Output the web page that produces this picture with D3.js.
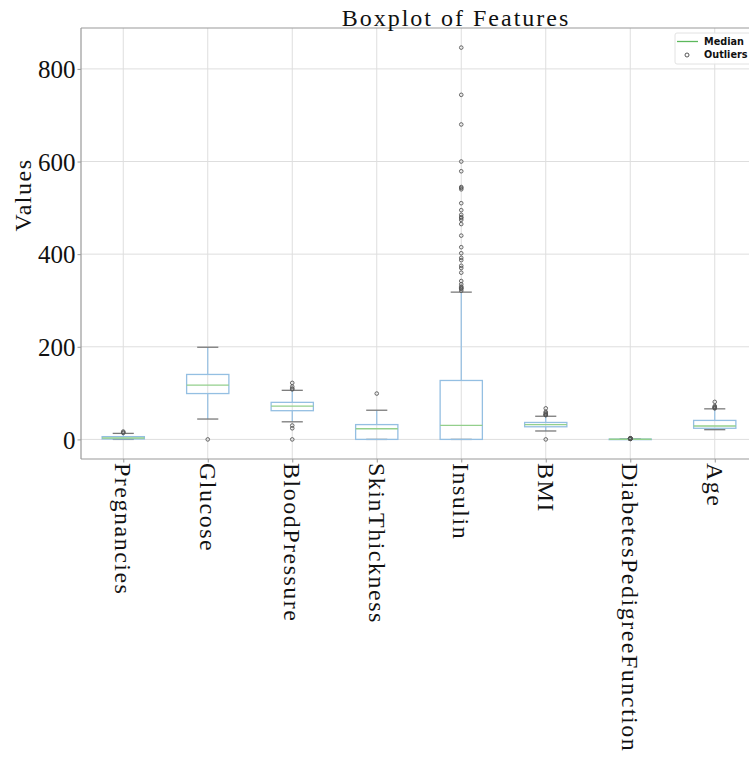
<!DOCTYPE html>
<html>
<head>
<meta charset="utf-8">
<script src="https://cdn.jsdelivr.net/npm/d3@7"></script>
<style>
  html, body { margin: 0; padding: 0; background: #fff; }
  svg { display: block; }
  .serif { font-family: "Liberation Serif", "DejaVu Serif", serif; font-size: 24px; fill: #111; }
  .spaced { letter-spacing: 1.5px; }
</style>
</head>
<body>
<svg id="chart" width="749" height="760"></svg>
<script>
// ---- data ----
const categories = ["Pregnancies", "Glucose", "BloodPressure", "SkinThickness", "Insulin", "BMI", "DiabetesPedigreeFunction", "Age"];
const q1Values      = [1, 99, 62, 0, 0, 27.3, 0.24, 24];
const medianValues  = [3, 117, 72, 23, 30.5, 32, 0.37, 29];
const q3Values      = [6, 140.25, 80, 32, 127.25, 36.6, 0.63, 41];
const whiskerLow    = [0, 44, 38, 0, 0, 18.2, 0.078, 21];
const whiskerHigh   = [13, 199, 106, 63, 318, 50, 1.19, 66];
const outlierValues = [
  [14, 15, 17],
  [0],
  [0, 24, 30, 108, 110, 114, 122],
  [99],
  [321, 325, 326, 328, 330, 335, 342, 360, 370, 375, 387, 392, 402, 415, 440, 465, 474, 478, 480, 485, 495, 510, 540, 543, 545, 579, 600, 680, 744, 846],
  [0, 52.3, 52.9, 53.2, 55, 57.3, 59.4, 67.1],
  [1.22, 1.25, 1.29, 1.32, 1.39, 1.44, 1.48, 1.6, 1.7, 1.73, 1.78, 1.89, 2.14, 2.29, 2.33, 2.42],
  [67, 68, 69, 70, 72, 81]
];
const yTicks = [0, 200, 400, 600, 800];
const legendLabels = ["Median", "Outliers"];

// ---- layout ----
const svg = d3.select("#chart");
const L = 81, R = 757, T = 28, B = 459;
const x = d3.scaleLinear().domain([0.5, categories.length + 0.5]).range([L, R]);
const y = d3.scaleLinear().domain([-42.3, 888.3]).range([B, T]);
const boxW = x(1.25) - x(1);   // half-width of a box (width 0.5)
const capW = boxW / 2;

const boxColor = "#94bfe2", medColor = "#93cf8c", capColor = "#7a7a7a", flierColor = "#555";

// grid
const grid = svg.append("g");
grid.selectAll("line.gy").data(yTicks).join("line")
  .attr("x1", L).attr("x2", R).attr("y1", d => y(d)).attr("y2", d => y(d))
  .attr("stroke", "#dedede").attr("stroke-width", 1);
grid.selectAll("line.gx").data(categories).join("line")
  .attr("x1", (d, i) => x(i + 1)).attr("x2", (d, i) => x(i + 1))
  .attr("y1", T).attr("y2", B)
  .attr("stroke", "#dedede").attr("stroke-width", 1);

// boxes
const g = svg.append("g");
categories.forEach((c, i) => {
  const cx = x(i + 1);
  g.append("line").attr("x1", cx).attr("x2", cx).attr("y1", y(q3Values[i])).attr("y2", y(whiskerHigh[i]))
    .attr("stroke", boxColor).attr("stroke-width", 1.2);
  g.append("line").attr("x1", cx).attr("x2", cx).attr("y1", y(q1Values[i])).attr("y2", y(whiskerLow[i]))
    .attr("stroke", boxColor).attr("stroke-width", 1.2);
  [whiskerLow[i], whiskerHigh[i]].forEach(v => {
    g.append("line").attr("x1", cx - capW).attr("x2", cx + capW).attr("y1", y(v)).attr("y2", y(v))
      .attr("stroke", capColor).attr("stroke-width", 1.3);
  });
  g.append("rect").attr("x", cx - boxW).attr("width", 2 * boxW)
    .attr("y", y(q3Values[i])).attr("height", Math.max(0.5, y(q1Values[i]) - y(q3Values[i])))
    .attr("fill", "none").attr("stroke", boxColor).attr("stroke-width", 1.3);
  g.append("line").attr("x1", cx - boxW).attr("x2", cx + boxW).attr("y1", y(medianValues[i])).attr("y2", y(medianValues[i]))
    .attr("stroke", medColor).attr("stroke-width", 1.3);
  g.selectAll(null).data(outlierValues[i]).join("circle")
    .attr("cx", cx).attr("cy", d => y(d)).attr("r", 1.8)
    .attr("fill", "none").attr("stroke", flierColor).attr("stroke-width", 0.9);
});

// spines
svg.append("line").attr("x1", L).attr("x2", L).attr("y1", T).attr("y2", B).attr("stroke", "#999").attr("stroke-width", 1.2);
svg.append("line").attr("x1", L).attr("x2", R).attr("y1", T).attr("y2", T).attr("stroke", "#999").attr("stroke-width", 1.2);
svg.append("line").attr("x1", L).attr("x2", R).attr("y1", B).attr("y2", B).attr("stroke", "#999").attr("stroke-width", 1.2);

// y axis
const yAxis = svg.append("g").attr("transform", `translate(${L},0)`)
  .call(d3.axisLeft(y).tickValues(yTicks).tickSize(3.5).tickPadding(2).tickFormat(d3.format("d")));
yAxis.select(".domain").remove();
yAxis.selectAll(".tick line").attr("stroke", "#999");
yAxis.selectAll(".tick text").attr("class", "serif").style("font-size", "25px").attr("fill", "#111").attr("dy", "0.35em");

// x axis
const xAxis = svg.append("g").attr("transform", `translate(0,${B})`)
  .call(d3.axisBottom(x).tickValues(d3.range(1, categories.length + 1)).tickSize(3.5).tickFormat(d => categories[d - 1]));
xAxis.select(".domain").remove();
xAxis.selectAll(".tick line").attr("stroke", "#999");
xAxis.selectAll(".tick text").attr("class", "serif spaced").attr("fill", "#111")
  .attr("transform", "rotate(90)").attr("text-anchor", "start")
  .attr("x", 4).attr("y", 0).attr("dy", "0.35em");

// title
svg.append("text").attr("class", "serif").style("letter-spacing", "2px")
  .attr("x", 456).attr("y", 26).attr("text-anchor", "middle").text("Boxplot of Features");
// y label
svg.append("text").attr("class", "serif spaced").attr("transform", "translate(31,195) rotate(-90)").attr("text-anchor", "middle").text("Values");

// legend
const lg = svg.append("g");
lg.append("rect").attr("x", 675).attr("y", 33).attr("width", 90).attr("height", 31).attr("rx", 2)
  .attr("fill", "#fff").attr("fill-opacity", 0.85).attr("stroke", "#e2e2e2");
lg.append("line").attr("x1", 677).attr("x2", 698).attr("y1", 41.5).attr("y2", 41.5).attr("stroke", "#5cb85c").attr("stroke-width", 1.3);
lg.append("circle").attr("cx", 687).attr("cy", 55).attr("r", 2).attr("fill", "none").attr("stroke", "#444").attr("stroke-width", 0.9);
lg.selectAll("text").data(legendLabels).join("text")
  .attr("x", 704).attr("y", (d, i) => 41.5 + i * 13.5).attr("dy", "0.35em")
  .attr("font-family", "DejaVu Sans").attr("font-weight", "bold").attr("font-size", 9.7).attr("fill", "#111")
  .text(d => d);
</script>
</body>
</html>
